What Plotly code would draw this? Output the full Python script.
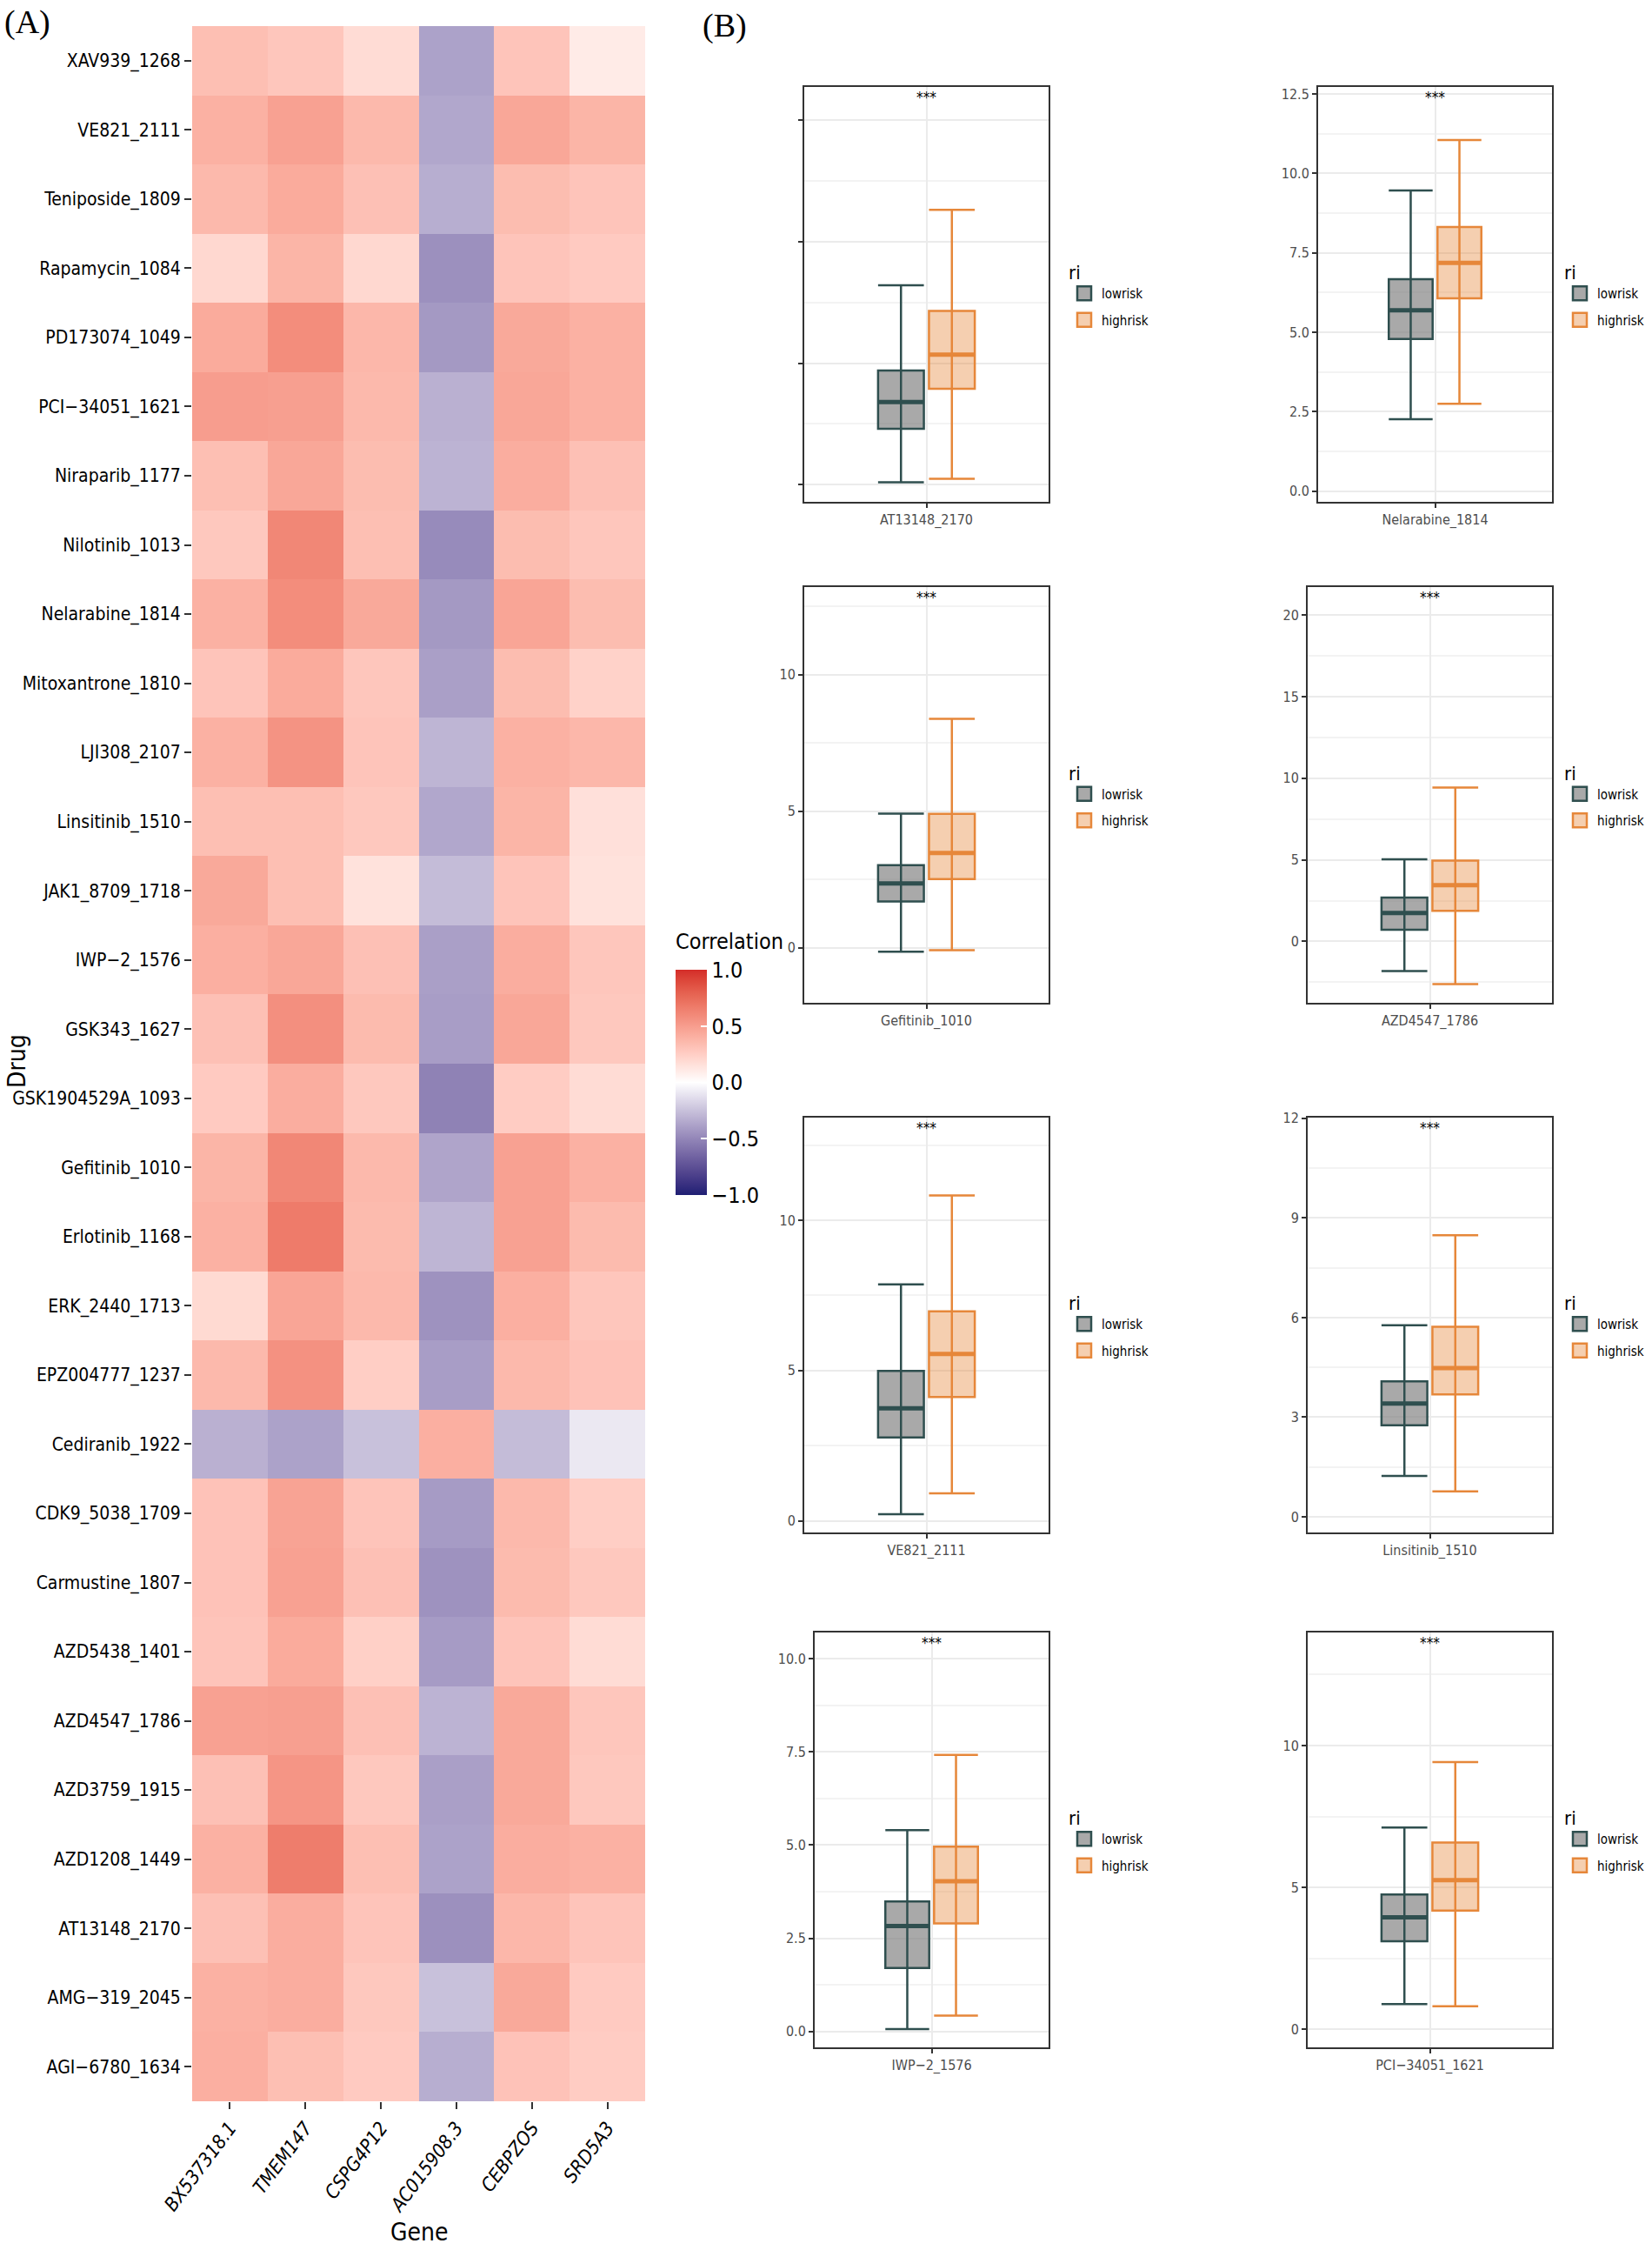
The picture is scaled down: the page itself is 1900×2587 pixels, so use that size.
import plotly.graph_objects as go
import numpy as np

# ---------------- Data: heatmap (A) ----------------
drugs = ["XAV939_1268", "VE821_2111", "Teniposide_1809", "Rapamycin_1084", "PD173074_1049",
         "PCI\u221234051_1621", "Niraparib_1177", "Nilotinib_1013", "Nelarabine_1814", "Mitoxantrone_1810",
         "LJI308_2107", "Linsitinib_1510", "JAK1_8709_1718", "IWP\u22122_1576", "GSK343_1627",
         "GSK1904529A_1093", "Gefitinib_1010", "Erlotinib_1168", "ERK_2440_1713", "EPZ004777_1237",
         "Cediranib_1922", "CDK9_5038_1709", "Carmustine_1807", "AZD5438_1401", "AZD4547_1786",
         "AZD3759_1915", "AZD1208_1449", "AT13148_2170", "AMG\u2212319_2045", "AGI\u22126780_1634"]
genes = ["BX537318.1", "TMEM147", "CSPG4P12", "AC015908.3", "CEBPZOS", "SRD5A3"]

corr_BX537318_1 = [0.33, 0.40, 0.36, 0.20, 0.43, 0.50, 0.33, 0.28, 0.40, 0.30, 0.40, 0.33, 0.44, 0.41, 0.32,
                   0.27, 0.38, 0.40, 0.19, 0.36, -0.32, 0.31, 0.31, 0.30, 0.48, 0.32, 0.40, 0.32, 0.40, 0.41]
corr_TMEM147 = [0.29, 0.48, 0.43, 0.38, 0.58, 0.49, 0.45, 0.61, 0.58, 0.43, 0.55, 0.33, 0.33, 0.45, 0.57,
                0.42, 0.61, 0.67, 0.46, 0.56, -0.38, 0.47, 0.48, 0.43, 0.49, 0.54, 0.66, 0.42, 0.42, 0.33]
corr_CSPG4P12 = [0.18, 0.36, 0.32, 0.20, 0.37, 0.36, 0.34, 0.33, 0.44, 0.29, 0.30, 0.28, 0.15, 0.32, 0.35,
                 0.28, 0.36, 0.35, 0.36, 0.25, -0.25, 0.30, 0.32, 0.24, 0.32, 0.28, 0.33, 0.30, 0.28, 0.27]
corr_AC015908_3 = [-0.38, -0.36, -0.33, -0.46, -0.42, -0.32, -0.31, -0.48, -0.42, -0.39, -0.30, -0.36, -0.27,
                   -0.39, -0.40, -0.52, -0.37, -0.30, -0.45, -0.40, 0.41, -0.41, -0.45, -0.41, -0.31, -0.39,
                   -0.38, -0.46, -0.25, -0.33]
corr_CEBPZOS = [0.30, 0.45, 0.34, 0.30, 0.44, 0.45, 0.42, 0.34, 0.46, 0.34, 0.40, 0.38, 0.30, 0.42, 0.45,
                0.26, 0.48, 0.48, 0.41, 0.36, -0.27, 0.36, 0.35, 0.30, 0.44, 0.44, 0.42, 0.37, 0.44, 0.31]
corr_SRD5A3 = [0.10, 0.38, 0.30, 0.27, 0.40, 0.40, 0.32, 0.29, 0.34, 0.23, 0.37, 0.16, 0.15, 0.29, 0.28,
               0.18, 0.40, 0.35, 0.29, 0.31, -0.09, 0.25, 0.28, 0.18, 0.29, 0.28, 0.40, 0.30, 0.27, 0.26]

# ---------------- Data: box plots (B) ----------------
box_drugs = ["AT13148_2170", "Nelarabine_1814", "Gefitinib_1010", "AZD4547_1786",
             "VE821_2111", "Linsitinib_1510", "IWP\u22122_1576", "PCI\u221234051_1621"]
groups = ["lowrisk", "highrisk"]
low_lower = [0.02, 2.26, -0.15, -1.81, 0.22, 1.23, 0.06, 0.89]
low_q1 = [0.46, 4.79, 1.69, 0.72, 2.77, 2.76, 1.70, 3.11]
low_median = [0.68, 5.69, 2.35, 1.75, 3.74, 3.41, 2.83, 3.95]
low_q3 = [0.94, 6.67, 3.02, 2.69, 4.99, 4.08, 3.49, 4.75]
low_upper = [1.64, 9.46, 4.91, 5.04, 7.87, 5.77, 5.40, 7.11]
high_lower = [0.05, 2.75, -0.09, -2.62, 0.91, 0.77, 0.42, 0.82]
high_q1 = [0.79, 6.07, 2.51, 1.88, 4.12, 3.69, 2.90, 4.19]
high_median = [1.07, 7.18, 3.47, 3.45, 5.55, 4.48, 4.03, 5.26]
high_q3 = [1.43, 8.31, 4.90, 4.95, 6.97, 5.72, 4.96, 6.58]
high_upper = [2.26, 11.05, 8.38, 9.43, 10.83, 8.48, 7.42, 9.42]
signif = ["***"] * 8

# axis settings per panel (range, major tick step, label format)
y_ranges = [[-0.14, 3.27], [-0.34, 12.72], [-2.02, 13.21], [-3.76, 21.72],
            [-0.39, 13.42], [-0.47, 12.02], [-0.43, 10.71], [-0.63, 13.98]]
y_dticks = [1, 2.5, 5, 5, 5, 3, 2.5, 5]
y_formats = ["", ".1f", "", "", "", "", ".1f", ""]
y_labels_on = [False, True, True, True, True, True, True, True]

# ---------------- Layout geometry (pixels) ----------------
W, H = 1900, 2587
FONT = "Liberation Sans Narrow, DejaVu Sans Condensed, Liberation Sans, Arial, sans-serif"
SERIF = "Liberation Serif, Times New Roman, serif"

def fx(p):
    return p / W

def fy(p):
    return 1 - p / H

heat_l, heat_r, heat_t, heat_b = 221, 742, 30, 2416
frames = [(925, 1206, 100, 577), (1516, 1785, 100, 577),
          (925, 1206, 675, 1153), (1504, 1785, 675, 1153),
          (925, 1206, 1285, 1762), (1504, 1785, 1285, 1762),
          (937, 1206, 1877, 2354), (1504, 1785, 1877, 2354)]
legend_left = [1227, 1797]

# ---------------- Lab-interpolated diverging colour scale ----------------
def _lin(c):
    c = c / 255.0
    return c / 12.92 if c <= 0.04045 else ((c + 0.055) / 1.055) ** 2.4

def _gam(c):
    c = 12.92 * c if c <= 0.0031308 else 1.055 * c ** (1 / 2.4) - 0.055
    return int(min(255, max(0, round(c * 255))))

def rgb2lab(rgb):
    r, g, b = [_lin(c) for c in rgb]
    X = (0.4124 * r + 0.3576 * g + 0.1805 * b) / 0.95047
    Y = 0.2126 * r + 0.7152 * g + 0.0722 * b
    Z = (0.0193 * r + 0.1192 * g + 0.9505 * b) / 1.08883
    f = lambda t: t ** (1 / 3) if t > 0.008856 else 7.787 * t + 16 / 116
    fX, fY, fZ = f(X), f(Y), f(Z)
    return (116 * fY - 16, 500 * (fX - fY), 200 * (fY - fZ))

def lab2rgb(lab):
    L, a, b = lab
    fY = (L + 16) / 116
    fX = fY + a / 500
    fZ = fY - b / 200
    finv = lambda t: t ** 3 if t ** 3 > 0.008856 else (t - 16 / 116) / 7.787
    X = finv(fX) * 0.95047
    Y = finv(fY)
    Z = finv(fZ) * 1.08883
    r = 3.2406 * X - 1.5372 * Y - 0.4986 * Z
    g = -0.9689 * X + 1.8758 * Y + 0.0415 * Z
    bb = 0.0557 * X - 0.2040 * Y + 1.0570 * Z
    return "rgb(%d,%d,%d)" % (_gam(r), _gam(g), _gam(bb))

low_lab = rgb2lab((30, 30, 115))
mid_lab = rgb2lab((255, 255, 255))
high_lab = rgb2lab((212, 44, 40))
colorscale = []
n = 20
for i in range(n + 1):
    t = 1 - i / n
    lab = tuple(mid_lab[k] + t * (low_lab[k] - mid_lab[k]) for k in range(3))
    colorscale.append([0.5 * i / n, lab2rgb(lab)])
for i in range(1, n + 1):
    t = i / n
    lab = tuple(mid_lab[k] + t * (high_lab[k] - mid_lab[k]) for k in range(3))
    colorscale.append([0.5 + 0.5 * i / n, lab2rgb(lab)])

z = np.array([corr_BX537318_1, corr_TMEM147, corr_CSPG4P12,
              corr_AC015908_3, corr_CEBPZOS, corr_SRD5A3]).T

fig = go.Figure()

fig.add_trace(go.Heatmap(
    z=z, x=genes, y=drugs, zmin=-1, zmax=1, colorscale=colorscale,
    xaxis="x", yaxis="y", hoverinfo="skip",
    colorbar=dict(
        x=fx(777), xanchor="left", xpad=0, ypad=0,
        y=fy((1115 + 1374) / 2), yanchor="middle",
        len=(1374 - 1115) / H, lenmode="fraction",
        thickness=36, thicknessmode="pixels", outlinewidth=0,
        tickvals=[-1, -0.5, 0, 0.5, 1],
        ticktext=["\u22121.0", "\u22120.5", "0.0", "0.5", "1.0"],
        ticks="inside", ticklen=7, tickwidth=2, tickcolor="white",
        tickfont=dict(family=FONT, size=25, color="black"),
    ),
))

layout = dict(
    width=W, height=H, margin=dict(l=0, r=0, t=0, b=0, autoexpand=False),
    paper_bgcolor="white", plot_bgcolor="white",
    font=dict(family=FONT, color="black"),
    hovermode=False,
    xaxis=dict(domain=[fx(heat_l), fx(heat_r)], anchor="y", automargin=False,
               tickangle=-53, ticks="outside", ticklen=8, tickwidth=2, tickcolor="#333333",
               tickfont=dict(family=FONT, size=22, color="black", style="italic"),
               showgrid=False, zeroline=False, showline=False),
    yaxis=dict(domain=[fy(heat_b), fy(heat_t)], anchor="x", autorange="reversed", automargin=False,
               ticks="outside", ticklen=8, tickwidth=2, tickcolor="#333333",
               tickfont=dict(family=FONT, size=21, color="black"),
               showgrid=False, zeroline=False, showline=False),
)

annotations = [
    dict(text="(A)", x=fx(3), y=fy(2), xref="paper", yref="paper", xanchor="left", yanchor="top",
         showarrow=False, font=dict(family=SERIF, size=38, color="black")),
    dict(text="(B)", x=fx(806), y=fy(6), xref="paper", yref="paper", xanchor="left", yanchor="top",
         showarrow=False, font=dict(family=SERIF, size=38, color="black")),
    dict(text="Drug", x=fx(19), y=fy(1220), xref="paper", yref="paper", textangle=-90,
         xanchor="center", yanchor="middle", showarrow=False, font=dict(family=FONT, size=28)),
    dict(text="Gene", x=fx(482), y=fy(2566), xref="paper", yref="paper",
         xanchor="center", yanchor="middle", showarrow=False, font=dict(family=FONT, size=28)),
    dict(text="Correlation", x=fx(775), y=fy(1082), xref="paper", yref="paper",
         xanchor="left", yanchor="middle", showarrow=False, font=dict(family=FONT, size=25)),
]

low_line, low_fill = "#2F4F4F", "rgba(128,128,128,0.68)"
high_line, high_fill = "#E6873A", "rgba(230,135,58,0.40)"
pos = [-0.125, 0.125]
bw = 0.225

for k in range(8):
    ax = k + 2
    xa, ya = "x%d" % ax, "y%d" % ax
    leg = "legend" if k == 0 else "legend%d" % (k + 1)
    l, r, t, b = frames[k]
    stats = [
        (low_lower[k], low_q1[k], low_median[k], low_q3[k], low_upper[k], low_line, low_fill),
        (high_lower[k], high_q1[k], high_median[k], high_q3[k], high_upper[k], high_line, high_fill),
    ]
    for g, (lo, q1, md, q3, hi, lc, fc) in enumerate(stats):
        fig.add_trace(go.Box(
            x=[pos[g]], lowerfence=[lo], q1=[q1], median=[md], q3=[q3], upperfence=[hi],
            width=bw, whiskerwidth=1, fillcolor=fc, line=dict(color=lc, width=2.5),
            name=groups[g], showlegend=False, boxpoints=False,
            xaxis=xa, yaxis=ya, hoverinfo="skip"))
    for g, (lo, q1, md, q3, hi, lc, fc) in enumerate(stats):
        fig.add_trace(go.Scatter(
            x=[pos[g], pos[g]], y=[q1, q3], mode="lines", line=dict(color=lc, width=2.5),
            showlegend=False, xaxis=xa, yaxis=ya, hoverinfo="skip"))
        fig.add_trace(go.Scatter(
            x=[pos[g] - bw / 2, pos[g] + bw / 2], y=[md, md], mode="lines",
            line=dict(color=lc, width=5), showlegend=False, xaxis=xa, yaxis=ya, hoverinfo="skip"))
        # legend key (no data drawn)
        fig.add_trace(go.Scatter(
            x=[None], y=[None], mode="markers", name=groups[g],
            marker=dict(symbol="square", size=16, color=fc, line=dict(color=lc, width=2.5)),
            legend=leg, legendgroup="%s_%d" % (groups[g], k), showlegend=True,
            xaxis=xa, yaxis=ya, hoverinfo="skip"))

    d = y_dticks[k]
    layout["xaxis%d" % ax] = dict(
        domain=[fx(l), fx(r)], anchor=ya, range=[-0.6, 0.6], automargin=False,
        tickvals=[0], ticktext=[box_drugs[k]],
        showgrid=True, gridcolor="#EBEBEB", gridwidth=2, zeroline=False,
        showline=True, mirror=True, linecolor="#333333", linewidth=2,
        ticks="outside", ticklen=5, tickwidth=2, tickcolor="#333333",
        tickfont=dict(family=FONT, size=16, color="#4D4D4D"))
    layout["yaxis%d" % ax] = dict(
        domain=[fy(b), fy(t)], anchor=xa, range=y_ranges[k], automargin=False,
        tick0=0, dtick=d, tickformat=y_formats[k], showticklabels=y_labels_on[k],
        showgrid=True, gridcolor="#EBEBEB", gridwidth=2, zeroline=False,
        minor=dict(tick0=d / 2, dtick=d, showgrid=True, gridcolor="#F3F3F3", gridwidth=1.5),
        showline=True, mirror=True, linecolor="#333333", linewidth=2,
        ticks="outside", ticklen=5, tickwidth=2, tickcolor="#333333",
        tickfont=dict(family=FONT, size=16, color="#4D4D4D"))
    layout[leg] = dict(
        x=fx(legend_left[k % 2]), xanchor="left",
        y=fy((t + b) / 2), yanchor="middle",
        title=dict(text="ri", font=dict(family=FONT, size=22, color="black")),
        font=dict(family=FONT, size=15, color="black"),
        bgcolor="rgba(0,0,0,0)", borderwidth=0, itemwidth=30, tracegroupgap=8,
        itemsizing="trace")
    annotations.append(dict(
        text=signif[k], x=0, y=0.975, xref=xa, yref="%s domain" % ya,
        xanchor="center", yanchor="middle", showarrow=False,
        font=dict(family=FONT, size=17, color="black")))

layout["annotations"] = annotations
fig.update_layout(**layout)

fig.write_html(
    "out.html",
    config={"displayModeBar": False},
    post_script="document.body.style.margin='0';document.body.style.padding='0';"
                "document.body.style.overflow='hidden';",
)
